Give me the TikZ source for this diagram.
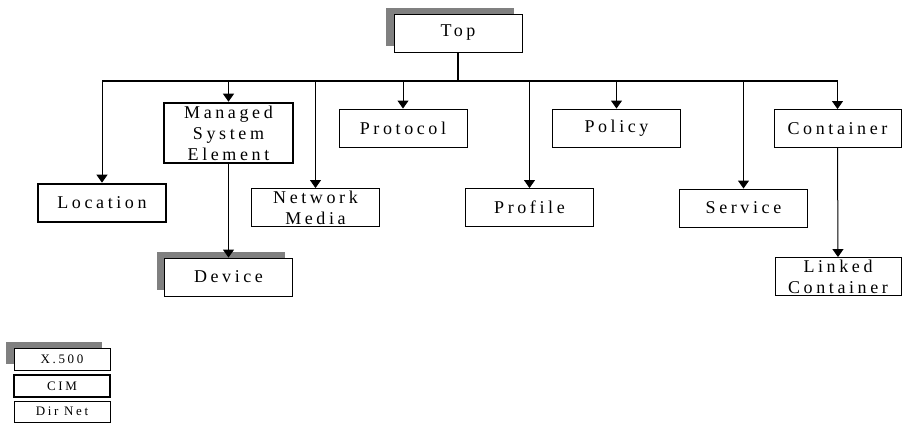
\documentclass[tikz,border=0pt]{standalone}
\usepackage{fontspec}
\setmainfont{Liberation Serif}
\newfontfamily\spacedfont[LetterSpace=20]{Liberation Serif}
\usetikzlibrary{arrows.meta,shadows}
\definecolor{shadegray}{RGB}{128,128,128}
\tikzset{
	cls/.style={draw, line width=0.9pt, fill=white, inner sep=0pt, minimum width=128pt, minimum height=38pt, align=center, font=\spacedfont\fontsize{18}{21}\selectfont},
	cimbox/.style={line width=2.6pt},
	xshade/.style={general shadow={fill=shadegray, shadow xshift=-8pt, shadow yshift=6pt}},
	legend/.style={cls, minimum width=96pt, minimum height=22pt, font=\spacedfont\fontsize{13}{15}\selectfont},
	drop/.style={-{Triangle[width=11pt,length=8pt]}, line width=1pt},
	bus/.style={line width=2pt},
}
\begin{document}
\begin{tikzpicture}[x=1pt, y=-1pt]
	\useasboundingbox (0,0) rectangle (902,423);
	% root
	\node[cls, xshade] (top) at (458,33) {Top};
	% first level
	\node[cls, cimbox] (loc) at (102,203) {Location};
	\node[cls, cimbox, minimum width=129pt, minimum height=60pt] (mse) at (228.5,133) {Managed\\System\\Element};
	\node[cls] (netmedia) at (315.5,207.5) {Network\\Media};
	\node[cls] (protocol) at (403,128) {Protocol};
	\node[cls] (profile) at (529.5,207.5) {Profile};
	\node[cls] (policy) at (616.5,128) {Policy};
	\node[cls] (service) at (743.5,208) {Service};
	\node[cls, minimum width=127pt] (container) at (837.5,128.5) {Container};
	% second level
	\node[cls, xshade] (device) at (228.5,277) {Device};
	\node[cls, minimum width=126pt] (linked) at (838,276.5) {Linked\\Container};
	% connectors
	\coordinate (bus) at (458,81);
	\draw[bus] (top.south) -- (bus);
	\draw[bus] (loc.north |- bus) -- (container.north |- bus);
	\foreach \n in {loc,mse,netmedia,protocol,profile,policy,service,container}
		\draw[drop] (\n.north |- bus) -- (\n.north);
	\draw[drop] (mse.south) -- (device.north);
	\draw[drop] (container.south) -- (linked.north);
	% legend
	\node[legend, xshade] (x500) at (62,359) {X.500};
	\node[legend, cimbox] (cim) at (62,386) {CIM};
	\node[legend, minimum height=21pt] (dirnet) at (62,411.5) {Dir Net};
\end{tikzpicture}
\end{document}
